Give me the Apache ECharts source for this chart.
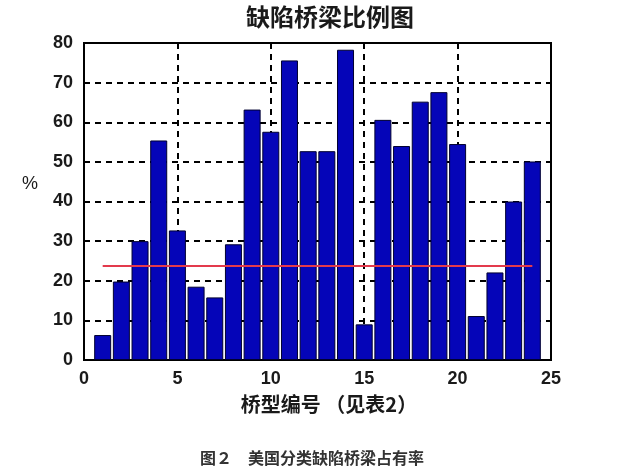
<!DOCTYPE html>
<html><head><meta charset="utf-8">
<script src="https://cdn.jsdelivr.net/npm/echarts@6/dist/echarts.min.js"></script>
<style>html,body{margin:0;padding:0;background:#fff}#c{width:628px;height:475px}</style>
</head><body><div id="c"></div>
<script>
const bridgeTypes = [1,2,3,4,5,6,7,8,9,10,11,12,13,14,15,16,17,18,19,20,21,22,23,24];
const defectPct = [6.3,19.8,30,55.4,32.7,18.5,15.8,29.2,63.2,57.6,75.6,52.7,52.7,78.3,9,60.6,54,65.2,67.6,54.5,11.1,22.1,40,50.1];
const averagePct = 23.7;
const xTicks = [0,5,10,15,20,25];
const yTicks = [0,10,20,30,40,50,60,70,80];

const chart = echarts.init(document.getElementById('c'));
const labelFont = {fontFamily:'Liberation Sans, Arial, sans-serif', fontSize:18, fontWeight:'bold', color:'#1a1a1a'};
const cjk = 'Noto Sans CJK SC, sans-serif';
chart.setOption({
  backgroundColor:'#fff',
  animation:false,
  title:{text:'缺陷桥梁比例图', left:325, top:0, textAlign:'center',
    textStyle:{fontFamily:cjk, fontSize:24, fontWeight:'bold', color:'#1a1a1a'}},
  grid:{left:84, right:77, top:43, bottom:115, show:true, borderColor:'#000', borderWidth:2, backgroundColor:'transparent'},
  xAxis:{type:'value', min:0, max:25, interval:5,
    axisLine:{show:true, onZero:false, lineStyle:{color:'#000', width:2}},
    axisTick:{show:false},
    axisLabel:{...labelFont, margin:10, formatter:v=>xTicks.includes(v)?String(v):''},
    splitLine:{show:true, lineStyle:{color:'#000', width:2, type:[6,5]}}},
  yAxis:[{type:'value', min:0, max:80, interval:10,
    axisLine:{show:true, lineStyle:{color:'#000', width:2}},
    axisTick:{show:false},
    axisLabel:{...labelFont, margin:11, formatter:v=>yTicks.includes(v)?String(v):''},
    splitLine:{show:true, lineStyle:{color:'#000', width:2, type:[6,5]}}},
   {type:'value', min:0, max:80, interval:10, position:'right',
    axisLine:{show:true, lineStyle:{color:'#000', width:2}},
    axisTick:{show:true, inside:true, length:5, lineStyle:{color:'#000', width:2}},
    axisLabel:{show:false}, splitLine:{show:false}}],
  graphic:[
    {type:'text', left:22, top:175, style:{text:'%', font:'18px Liberation Sans, Arial', fill:'#1a1a1a'}},
    {type:'text', x:329, y:404, style:{text:'桥型编号 （见表2）', font:'bold 20px '+cjk, fill:'#1a1a1a', textAlign:'center', textVerticalAlign:'middle'}},
    {type:'text', x:312, y:458, style:{text:'图２　美国分类缺陷桥梁占有率', font:'bold 16px '+cjk, fill:'#333', textAlign:'center', textVerticalAlign:'middle'}}
  ],
  series:[
    {type:'bar', data:bridgeTypes.map((x,i)=>[x, defectPct[i]]), barWidth:17,
     itemStyle:{color:'#0505b8', borderColor:'#000030', borderWidth:1}},
    {type:'line', data:[[bridgeTypes[0], averagePct],[bridgeTypes[bridgeTypes.length-1], averagePct]],
     symbol:'none', lineStyle:{color:'#e33a4c', width:2}, z:5}
  ]
});
</script></body></html>
